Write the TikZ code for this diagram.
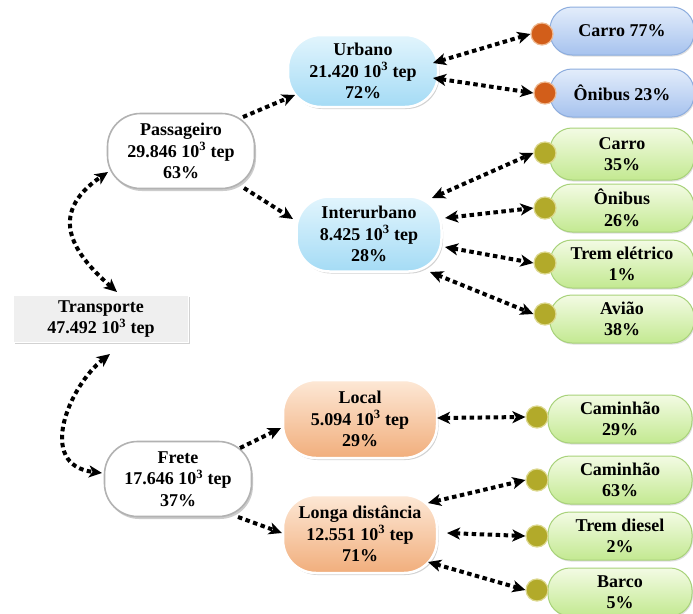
\documentclass[tikz,border=0pt]{standalone}
\usepackage{fontspec}
\setmainfont{Liberation Serif}
\usetikzlibrary{arrows.meta,shadows}
\definecolor{bluetop}{HTML}{E2F5FD}
\definecolor{bluebot}{HTML}{A4DBF5}
\definecolor{peachtop}{HTML}{FDE8D6}
\definecolor{peachbot}{HTML}{F1AE7C}
\definecolor{greentop}{HTML}{F3FBE4}
\definecolor{greenbot}{HTML}{C3E991}
\definecolor{greenline}{HTML}{A8D27A}
\definecolor{lbluetop}{HTML}{E3EDFB}
\definecolor{lbluebot}{HTML}{A6C2EE}
\definecolor{lblueline}{HTML}{8DADDE}
\definecolor{dotorange}{HTML}{D25E1A}
\definecolor{dotorangeline}{HTML}{EEB890}
\definecolor{dotolive}{HTML}{B2AA2A}
\definecolor{dotoliveline}{HTML}{DCD88E}
\definecolor{transfill}{HTML}{EFEFEF}
\begin{document}
\begin{tikzpicture}[x=1pt,y=-1pt,
  every node/.style={font=\bfseries\fontsize{18}{21.5}\selectfont, text=black},
  mytip/.tip={Stealth[length=13pt,width=12pt,inset=3.5pt]},
  link/.style={line width=4pt, dash pattern=on 4.5pt off 3.5pt},
  bi/.style={link, mytip-mytip},
  uni/.style={link, -mytip},
  mid/.style={rounded corners=33pt, align=center, inner sep=0pt, line width=2.5pt, draw=white,
    drop shadow={shadow xshift=1.5pt, shadow yshift=-2pt, opacity=0.35}},
  bluemid/.style={mid, top color=bluetop, bottom color=bluebot},
  peachmid/.style={mid, top color=peachtop, bottom color=peachbot},
  whitemid/.style={rounded corners=33pt, align=center, inner sep=0pt, line width=1.6pt, draw=gray!60, fill=white,
    drop shadow={shadow xshift=1.5pt, shadow yshift=-2.5pt, opacity=0.4}},
  leaf/.style={rounded corners=22pt, align=center, inner sep=0pt, minimum width=144pt, minimum height=48pt, line width=1pt,
    drop shadow={shadow xshift=1pt, shadow yshift=-1.5pt, opacity=0.25}},
  greenleaf/.style={leaf, top color=greentop, bottom color=greenbot, draw=greenline},
  blueleaf/.style={leaf, top color=lbluetop, bottom color=lbluebot, draw=lblueline},
  dot/.style={circle, minimum size=22pt, inner sep=0pt, line width=1.2pt},
  odot/.style={dot, fill=dotorange, draw=dotorangeline},
  gdot/.style={dot, fill=dotolive, draw=dotoliveline},
  rootbox/.style={rectangle, align=center, inner sep=0pt, minimum width=175pt, minimum height=47pt, fill=transfill, draw=white, line width=1.5pt,
    drop shadow={shadow xshift=1.5pt, shadow yshift=-1.5pt, opacity=0.35}}
]
\useasboundingbox (0,0) rectangle (693,613);
\fill[white] (0,0) rectangle (693,613);

% root
\node[rootbox] (T) at (101,319) {Transporte\\47.492 10\textsuperscript{3} tep};

% second level
\node[whitemid, minimum width=147pt, minimum height=75pt] (P) at (181,151) {Passageiro\\29.846 10\textsuperscript{3} tep\\63\%};
\node[whitemid, minimum width=147pt, minimum height=75pt] (F) at (178,479) {Frete\\17.646 10\textsuperscript{3} tep\\37\%};

% third level
\node[bluemid, minimum width=150pt, minimum height=72pt] (U) at (363,71) {Urbano\\21.420 10\textsuperscript{3} tep\\72\%};
\node[bluemid, minimum width=145pt, minimum height=75pt] (I) at (369,234) {Interurbano\\8.425 10\textsuperscript{3} tep\\28\%};
\node[peachmid, minimum width=154pt, minimum height=78pt] (L) at (360,419) {Local\\5.094 10\textsuperscript{3} tep\\29\%};
\node[peachmid, minimum width=154pt, minimum height=78pt] (D) at (360,534) {Longa distância\\12.551 10\textsuperscript{3} tep\\71\%};

% leaves
\node[blueleaf] (l1) at (622,31) {Carro 77\%};
\node[blueleaf] (l2) at (622,93) {Ônibus 23\%};
\node[greenleaf, minimum height=52pt] (l3) at (622,154) {Carro\\35\%};
\node[greenleaf] (l4) at (622,208) {Ônibus\\26\%};
\node[greenleaf] (l5) at (622,264) {Trem elétrico\\1\%};
\node[greenleaf] (l6) at (622,319) {Avião\\38\%};
\node[greenleaf] (l7) at (620,419) {Caminhão\\29\%};
\node[greenleaf] (l8) at (620,480) {Caminhão\\63\%};
\node[greenleaf] (l9) at (620,536) {Trem diesel\\2\%};
\node[greenleaf] (l10) at (620,592) {Barco\\5\%};

% dots
\node[odot] (c1) at (542,34) {};
\node[odot] (c2) at (545,93) {};
\node[gdot] (c3) at (545,153) {};
\node[gdot] (c4) at (545,208) {};
\node[gdot] (c5) at (545,263) {};
\node[gdot] (c6) at (545,314) {};
\node[gdot] (c7) at (537,417) {};
\node[gdot] (c8) at (537,480) {};
\node[gdot] (c9) at (537,536) {};
\node[gdot] (c10) at (537,590) {};

% root connectors
\draw[bi] ([shift={(16,-27)}]T.center) .. controls ([shift={(-26,-64)}]T.center) and ([shift={(-136,64)}]P.center) .. ([shift={(-73,21)}]P.center);
\draw[bi] ([shift={(9,35)}]T.center) .. controls ([shift={(-31,66)}]T.center) and ([shift={(-143,-14)}]F.center) .. ([shift={(-76,-6)}]F.center);

% second to third
\draw[uni] ([shift={(62,-34)}]P.center) -- ([shift={(-68,24)}]U.center);
\draw[uni] ([shift={(63,37)}]P.center) -- ([shift={(-76,-15)}]I.center);
\draw[uni] ([shift={(62,-31)}]F.center) -- ([shift={(-79,9)}]L.center);
\draw[uni] ([shift={(60,38)}]F.center) -- ([shift={(-78,-1)}]D.center);

% third to leaves
\draw[bi] ([shift={(70,-8)}]U.center) -- (c1.west);
\draw[bi] ([shift={(70,7)}]U.center) -- (c2.west);
\draw[bi] ([shift={(63,-36)}]I.center) -- (c3.west);
\draw[bi] ([shift={(76,-16)}]I.center) -- (c4.west);
\draw[bi] ([shift={(76,13)}]I.center) -- (c5.west);
\draw[bi] ([shift={(61,38)}]I.center) -- (c6.west);
\draw[bi] ([shift={(77,-1)}]L.center) -- (c7.west);
\draw[bi] ([shift={(68,-31)}]D.center) -- (c8.west);
\draw[bi] ([shift={(87,-1)}]D.center) -- (c9.west);
\draw[bi] ([shift={(68,28)}]D.center) -- (c10.west);
\end{tikzpicture}
\end{document}
